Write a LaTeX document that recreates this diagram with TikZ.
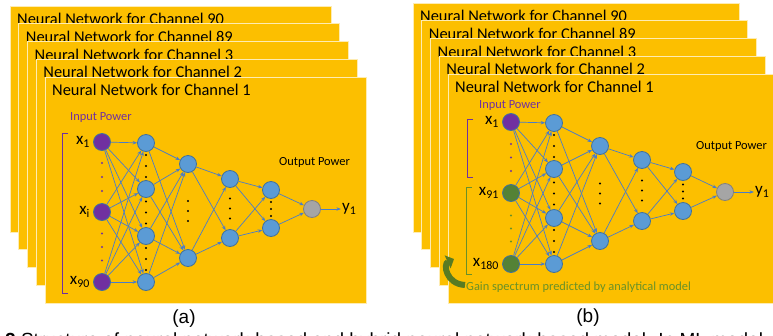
\documentclass[tikz,border=0pt]{standalone}
\usepackage{fontspec}
\setmainfont{Carlito}
\newfontfamily\capfont{Liberation Sans}
\usetikzlibrary{arrows.meta}
\usetikzlibrary{positioning}
\usetikzlibrary{calc}
\definecolor{panelgold}{RGB}{252,191,0}
\definecolor{inpurple}{RGB}{112,48,160}
\definecolor{nodeblue}{RGB}{91,155,213}
\definecolor{nodeedge}{RGB}{65,113,156}
\definecolor{wireblue}{RGB}{74,124,200}
\definecolor{gaingreen}{RGB}{84,130,53}
\definecolor{gaintext}{RGB}{105,145,40}
\definecolor{outgray}{RGB}{165,165,165}
\tikzset{
  panel/.style={fill=panelgold, draw=white!70!panelgold, line width=0.8pt},
  paneltitle/.style={anchor=base west, inner sep=0pt, font=\fontsize{16.4}{18}\selectfont},
  neuron/.style={circle, minimum size=17pt, inner sep=0pt, line width=0.8pt, draw=nodeedge, fill=nodeblue},
  inneuron/.style={neuron, fill=inpurple},
  gainneuron/.style={neuron, fill=gaingreen},
  outneuron/.style={neuron, fill=outgray, draw=gray},
  wire/.style={wireblue, line width=0.7pt, -{Stealth[length=4.5pt,width=3.5pt]}},
  xlabel/.style={inner sep=1pt, font=\fontsize{17}{19}\selectfont},
  smalltext/.style={inner sep=0pt, font=\fontsize{12.4}{14}\selectfont},
  inbracket/.style={inpurple, line width=1pt},
  gainbracket/.style={gaintext, line width=1pt},
  gainarrow/.style={gaintext!85!black, line width=6pt, -{Triangle[length=7pt,width=14pt]}},
  tagtext/.style={inner sep=0pt, font=\capfont\fontsize{19}{21}\selectfont}
}
\newcommand{\gapdots}[4]{%
  \foreach \f in {-1,0,1}
    {\fill[#4] ($(#1)!0.5!(#2)+(0,\f*#3)$) circle (1.1pt);}%
}

\begin{document}
\begin{tikzpicture}[x=1pt,y=-1pt]
\useasboundingbox (0,0) rectangle (773,335);
\begin{scope}
\clip (0,0) rectangle (773,335);

\foreach \ch [count=\k from 0] in {90,89,3,2,1} {
  \path[panel] (10+8.75*\k,6+17.75*\k) rectangle ++(321,226);
  \node[paneltitle] at (17+8.75*\k,24.5+17.75*\k) {Neural Network for Channel \ch};
  \path[panel] (413+8.75*\k,3+17.75*\k) rectangle ++(326,229);
  \node[paneltitle] at (420+8.75*\k,21.5+17.75*\k) {Neural Network for Channel \ch};
}

% (a)
\node[inneuron] (a-in1) at (102,142) {};
\node[inneuron] (a-in2) at (102,212) {};
\node[inneuron] (a-in3) at (102,282) {};
\foreach \y [count=\i] in {143,189,236,282}
  \node[neuron] (a-h1-\i) at (146,\y) {};
\node[neuron] (a-h2-1) at (188,164) {};
\node[neuron] (a-h2-2) at (188,258) {};
\node[neuron] (a-h3-1) at (230,179) {};
\node[neuron] (a-h3-2) at (230,238) {};
\node[neuron] (a-h4-1) at (271,190) {};
\node[neuron] (a-h4-2) at (271,228) {};
\node[outneuron] (a-out) at (312,209) {};

% (b)
\node[inneuron] (b-in1) at (511,122) {};
\node[gainneuron] (b-in2) at (511,193) {};
\node[gainneuron] (b-in3) at (511,264) {};
\foreach \y [count=\i] in {123,169,218,264}
  \node[neuron] (b-h1-\i) at (554,\y) {};
\node[neuron] (b-h2-1) at (600,146) {};
\node[neuron] (b-h2-2) at (600,241) {};
\node[neuron] (b-h3-1) at (642,160) {};
\node[neuron] (b-h3-2) at (642,221) {};
\node[neuron] (b-h4-1) at (683,172) {};
\node[neuron] (b-h4-2) at (683,211) {};
\node[outneuron] (b-out) at (725,192) {};

\foreach \p in {a,b} {
  \foreach \s in {1,2,3}
    \foreach \t in {1,...,4}
      \draw[wire] (\p-in\s) -- (\p-h1-\t);
  \foreach \s in {1,...,4}
    \foreach \t in {1,2}
      \draw[wire] (\p-h1-\s) -- (\p-h2-\t);
  \foreach \s in {1,2}
    \foreach \t in {1,2} {
      \draw[wire] (\p-h2-\s) -- (\p-h3-\t);
      \draw[wire] (\p-h3-\s) -- (\p-h4-\t);
    }
  \draw[wire] (\p-h4-1) -- (\p-out);
  \draw[wire] (\p-h4-2) -- (\p-out);
  \foreach \s/\t in {1/2,2/3,3/4}
    {\gapdots{\p-h1-\s}{\p-h1-\t}{11}{black}}
  \gapdots{\p-h2-1}{\p-h2-2}{10}{black}
  \gapdots{\p-h3-1}{\p-h3-2}{10}{black}
  \gapdots{\p-h4-1}{\p-h4-2}{7}{black}
}
\gapdots{a-in1}{a-in2}{14}{inpurple}
\gapdots{a-in2}{a-in3}{13.5}{inpurple}
\gapdots{b-in1}{b-in2}{13.5}{inpurple}
\gapdots{b-in2}{b-in3}{13}{gaintext}

\node[xlabel, left=2pt of a-in1] {x\textsubscript{1}};
\node[xlabel, left=2pt of a-in2] {x\textsubscript{i}};
\node[xlabel, left=2pt of a-in3] {x\textsubscript{90}};
\node[xlabel, left=2pt of b-in1] {x\textsubscript{1}};
\node[xlabel, left=2pt of b-in2] {x\textsubscript{91}};
\node[xlabel, left=2pt of b-in3] {x\textsubscript{180}};

\node[xlabel, right=20pt of a-out] (a-y) {y\textsubscript{1}};
\node[xlabel, right=20pt of b-out] (b-y) {y\textsubscript{1}};
\draw[wire] (a-out) -- (a-y);
\draw[wire] (b-out) -- (b-y);

\node[smalltext, text=inpurple, anchor=west] (a-inpow) at (70,118) {Input Power};
\node[smalltext, text=inpurple, anchor=west] (b-inpow) at (479,106) {Input Power};
\node[smalltext, anchor=west] (a-outpow) at (279,162) {Output Power};
\node[smalltext, anchor=west] (b-outpow) at (696,146) {Output Power};

\draw[inbracket] (68,133) -| (62,293) -- (68,293);
\draw[inbracket] (473,119) -| (467,177) -- (473,177);
\draw[gainbracket] (472,187) -| (466,274) -- (472,274);

\draw[gainarrow] (465,285) .. controls (446,284) and (443,264) .. (454,259);
\node[smalltext, text=gaintext, anchor=west] (b-gain) at (466,287) {Gain spectrum predicted by analytical model};

\node[tagtext] (a-tag) at (184,318.5) {(a)};
\node[tagtext] (b-tag) at (588,318) {(b)};
\node[tagtext, anchor=base west] (fig-cap) at (5,346)
  {\textbf{2} Structure of neural network-based and hybrid neural network-based model. In ML model};
\end{scope}
\end{tikzpicture}
\end{document}
